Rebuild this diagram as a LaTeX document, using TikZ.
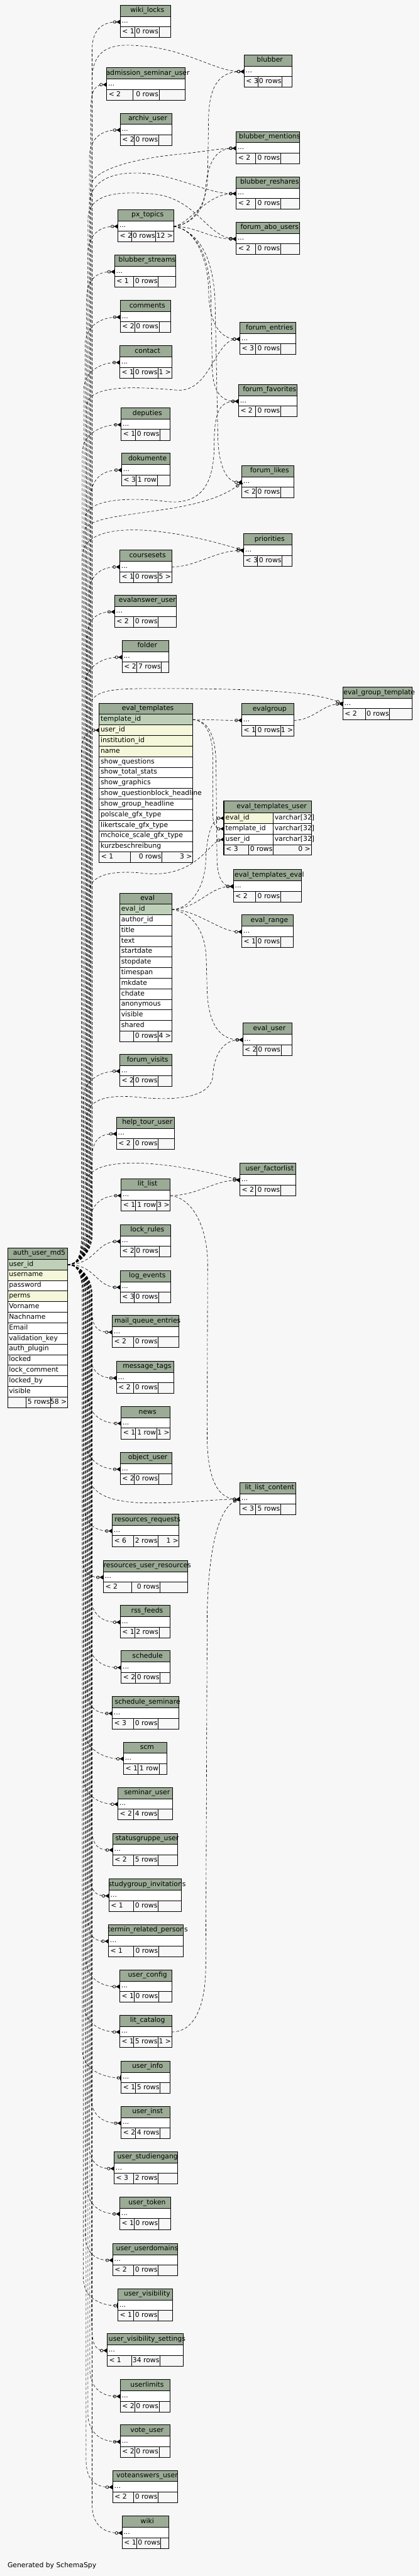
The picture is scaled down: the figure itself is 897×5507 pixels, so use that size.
\documentclass[tikz,border=0pt]{standalone}
\usepackage{fontspec}
\setmainfont{DejaVu Sans}
\usetikzlibrary{arrows.meta}
\definecolor{bgfill}{HTML}{F7F7F7}
\definecolor{headfill}{HTML}{9BAB96}
\definecolor{pkfill}{HTML}{BED1B8}
\definecolor{idxfill}{HTML}{F4F7DA}
\tikzset{
  every node/.style={font=\fontsize{10.9}{13}\selectfont, inner sep=0pt},
  tline/.style={draw=black, line width=0.75pt},
  hdrtxt/.style={anchor=base},
  coltxt/.style={anchor=base west},
  numtxt/.style={anchor=base east},
  fk/.style={dash pattern=on 4.5pt off 3pt, line width=0.6pt},
  crow/.style={-{Circle[open,length=5.5pt,width=5pt,line width=0.7pt]Triangle[reversed,length=6pt,width=7pt]}},
  zeroone/.style={-{Circle[open,length=5.5pt,width=5pt,line width=0.7pt]Bar[width=8pt,line width=1.5pt]}}
}
% table with one row of dots: name, left, right, top, parents, rows, children, dividers
\newcommand{\smalltab}[9]{%
  \fill[headfill] (#2,#4) rectangle (#3,{#4+24}); \fill[white] (#2,{#4+24}) rectangle (#3,{#4+46});
  \draw[tline] (#2,#4) rectangle (#3,{#4+69}) (#2,{#4+24}) -- (#3,{#4+24}) (#2,{#4+46}) -- (#3,{#4+46}) (#8,{#4+46}) -- (#8,{#4+69}) (#9,{#4+46}) -- (#9,{#4+69});
  \node[hdrtxt] (#1) at ({(#2+#3)/2+4},{#4+15.5}) {\detokenize{#1}};
  \node[coltxt] (#1-dots) at ({#2+3},{#4+38.5}) {...};
  \node[coltxt] (#1-par) at ({#2+4},{#4+61}) {#5};
  \node[numtxt] (#1-rows) at ({#9-1},{#4+61}) {#6};
  \node[numtxt] (#1-kids) at ({#3-1},{#4+61}) {#7};
  \coordinate (#1-in) at (#2,{#4+36}); \coordinate (#1-out) at (#3,{#4+36});
}
% links from auth_user_md5.user_id: tip, target, bundle x, target top, target left
\newcommand{\fkup}[5][crow]{\draw[fk,#1] (auth-uid) .. controls (170,2703.3) and (#3,2676) .. (#3,2640) -- (#3,{#4+96}) .. controls (#3,{#4+56}) and ({max(#5-42,#3+5)},{#4+36}) .. (#2-in);}
\newcommand{\fkdown}[5][crow]{\draw[fk,#1] (auth-uid) .. controls (170,2703.3) and (#3,2731) .. (#3,2766) -- (#3,{#4-24}) .. controls (#3,{#4+16}) and ({max(#5-42,#3+5)},{#4+36}) .. (#2-in);}

\begin{document}
\begin{tikzpicture}[x=0.75pt, y=-0.75pt]
\useasboundingbox (0,0) rectangle (897,5507);
\fill[bgfill] (0,0) rectangle (897,5507);

% small tables
\smalltab{wiki_locks}{257}{365}{11}{< 1}{0 rows}{}{288}{340}
\smalltab{blubber}{522}{624}{117}{< 3}{0 rows}{}{552}{603}
\smalltab{admission_seminar_user}{228}{396}{145}{< 2}{0 rows}{}{284}{340}
\smalltab{archiv_user}{257}{367}{242}{< 2}{0 rows}{}{287}{339}
\smalltab{blubber_mentions}{505}{640}{281}{< 2}{0 rows}{}{547}{600}
\smalltab{blubber_reshares}{505}{640}{378}{< 2}{0 rows}{}{547}{600}
\smalltab{px_topics}{252}{371}{448}{< 2}{0 rows}{12 >}{281}{333}
\smalltab{forum_abo_users}{505}{640}{475}{< 2}{0 rows}{}{547}{600}
\smalltab{blubber_streams}{245}{376}{545}{< 1}{0 rows}{}{285}{338}
\smalltab{comments}{257}{365}{642}{< 2}{0 rows}{}{288}{340}
\smalltab{forum_entries}{513}{632}{689}{< 3}{0 rows}{}{547}{600}
\smalltab{contact}{256}{367}{739}{< 1}{0 rows}{1 >}{285}{338}
\smalltab{forum_favorites}{510}{635}{822}{< 2}{0 rows}{}{547}{600}
\smalltab{deputies}{259}{363}{872}{< 1}{0 rows}{}{289}{342}
\smalltab{dokumente}{260}{363}{969}{< 3}{1 row}{}{291}{336}
\smalltab{forum_likes}{517}{628}{995}{< 2}{0 rows}{}{548}{600}
\smalltab{priorities}{521}{624}{1141}{< 3}{0 rows}{}{551}{603}
\smalltab{coursesets}{256}{367}{1176}{< 1}{0 rows}{5 >}{285}{338}
\smalltab{evalanswer_user}{245}{377}{1272}{< 2}{0 rows}{}{285}{338}
\smalltab{folder}{261}{361}{1369}{< 2}{7 rows}{}{292}{345}
\smalltab{eval_group_template}{733}{881}{1469}{< 2}{0 rows}{}{781}{833}
\smalltab{evalgroup}{517}{628}{1504}{< 1}{0 rows}{1 >}{547}{600}
\smalltab{eval_templates_eval}{499}{645}{1859}{< 2}{0 rows}{}{547}{600}
\smalltab{eval_range}{517}{627}{1956}{< 1}{0 rows}{}{548}{600}
\smalltab{eval_user}{519}{625}{2187}{< 2}{0 rows}{}{549}{601}
\smalltab{forum_visits}{256}{367}{2254}{< 2}{0 rows}{}{285}{338}
\smalltab{help_tour_user}{249}{373}{2388}{< 2}{0 rows}{}{285}{338}
\smalltab{user_factorlist}{513}{632}{2487}{< 2}{0 rows}{}{547}{600}
\smalltab{lit_list}{259}{364}{2520}{< 1}{1 row}{3 >}{289}{335}
\smalltab{lock_rules}{257}{365}{2618}{< 2}{0 rows}{}{288}{340}
\smalltab{log_events}{257}{365}{2716}{< 3}{0 rows}{}{287}{339}
\smalltab{mail_queue_entries}{240}{383}{2812}{< 2}{0 rows}{}{285}{338}
\smalltab{message_tags}{249}{372}{2910}{< 2}{0 rows}{}{285}{338}
\smalltab{news}{259}{364}{3007}{< 1}{1 row}{1 >}{289}{335}
\smalltab{object_user}{257}{367}{3105}{< 2}{0 rows}{}{287}{339}
\smalltab{lit_list_content}{513}{632}{3169}{< 3}{5 rows}{}{547}{600}
\smalltab{resources_requests}{240}{383}{3237}{< 6}{2 rows}{1 >}{285}{338}
\smalltab{resources_user_resources}{221}{401}{3336}{< 2}{0 rows}{}{281}{342}
\smalltab{rss_feeds}{257}{364}{3432}{< 1}{2 rows}{}{288}{340}
\smalltab{schedule}{259}{364}{3529}{< 2}{0 rows}{}{289}{342}
\smalltab{schedule_seminare}{240}{383}{3627}{< 3}{0 rows}{}{285}{338}
\smalltab{scm}{264}{357}{3724}{< 1}{1 row}{}{295}{340}
\smalltab{seminar_user}{252}{369}{3821}{< 2}{4 rows}{}{285}{338}
\smalltab{statusgruppe_user}{241}{380}{3919}{< 2}{5 rows}{}{285}{338}
\smalltab{studygroup_invitations}{233}{388}{4017}{< 1}{0 rows}{}{285}{338}
\smalltab{termin_related_persons}{232}{392}{4114}{< 1}{0 rows}{}{285}{339}
\smalltab{user_config}{256}{367}{4211}{< 1}{0 rows}{}{287}{339}
\smalltab{lit_catalog}{256}{367}{4308}{< 1}{5 rows}{1 >}{285}{338}
\smalltab{user_info}{259}{364}{4406}{< 1}{5 rows}{}{289}{342}
\smalltab{user_inst}{259}{364}{4503}{< 2}{4 rows}{}{289}{342}
\smalltab{user_studiengang}{244}{379}{4600}{< 3}{2 rows}{}{285}{338}
\smalltab{user_token}{256}{365}{4697}{< 1}{0 rows}{}{287}{339}
\smalltab{user_userdomains}{241}{380}{4796}{< 2}{0 rows}{}{285}{338}
\smalltab{user_visibility}{252}{369}{4893}{< 1}{0 rows}{}{285}{338}
\smalltab{user_visibility_settings}{229}{392}{4989}{< 1}{34 rows}{}{281}{342}
\smalltab{userlimits}{257}{364}{5087}{< 2}{0 rows}{}{288}{340}
\smalltab{vote_user}{257}{364}{5184}{< 2}{0 rows}{}{288}{340}
\smalltab{voteanswers_user}{241}{380}{5281}{< 2}{0 rows}{}{285}{338}
\smalltab{wiki}{261}{361}{5379}{< 1}{0 rows}{}{292}{344}

% eval_templates
\fill[headfill] (212,1504) rectangle (412,1527);
\foreach \c/\f [count=\i from 0] in {template\_id/pkfill,user\_id/idxfill,institution\_id/idxfill,name/idxfill,show\_questions/white,show\_total\_stats/white,show\_graphics/white,show\_questionblock\_headline/white,show\_group\_headline/white,polscale\_gfx\_type/white,likertscale\_gfx\_type/white,mchoice\_scale\_gfx\_type/white,kurzbeschreibung/white}
  {\filldraw[tline,fill=\f] (212,{1527+\i*22.65}) rectangle (412,{1527+(\i+1)*22.65}); \node[coltxt] (et-r\i) at (215,{1541.6+\i*22.65}) {\c};}
\draw[tline] (212,1504) rectangle (412,1844.1) (279,1821.45) -- (279,1844.1) (346,1821.45) -- (346,1844.1);
\node[hdrtxt] (eval_templates) at (316,1518.5) {eval\_templates};
\node[coltxt] (et-par) at (216,1836.1) {< 1}; \node[numtxt] (et-rows) at (345,1836.1) {0 rows}; \node[numtxt] (et-kids) at (411,1836.1) {3 >};
\coordinate (et-tid) at (412,1538.3); \coordinate (et-uid) at (212,1561);

% eval
\fill[headfill] (256,1909) rectangle (367,1933);
\foreach \c/\f [count=\i from 0] in {eval\_id/pkfill,author\_id/white,title/white,text/white,startdate/white,stopdate/white,timespan/white,mkdate/white,chdate/white,anonymous/white,visible/white,shared/white}
  {\filldraw[tline,fill=\f] (256,{1933+\i*22.6}) rectangle (367,{1933+(\i+1)*22.6}); \node[coltxt] (ev-r\i) at (259,{1947.6+\i*22.6}) {\c};}
\draw[tline] (256,1909) rectangle (367,2226.8) (285,2204.2) -- (285,2226.8) (338,2204.2) -- (338,2226.8);
\node[hdrtxt] (eval) at (315.5,1924.5) {eval};
\node[numtxt] (ev-rows) at (337,2218.8) {0 rows}; \node[numtxt] (ev-kids) at (366,2218.8) {4 >};
\coordinate (ev-eid) at (367,1944.3);

% eval_templates_user
\fill[headfill] (479,1712) rectangle (666,1738);
\foreach \c/\f [count=\i from 0] in {eval\_id/idxfill,template\_id/white,user\_id/white}
  {\filldraw[tline,fill=\f] (479,{1738+\i*22.5}) rectangle (584,{1760.5+\i*22.5}); \filldraw[tline,fill=white] (584,{1738+\i*22.5}) rectangle (666,{1760.5+\i*22.5});
   \node[coltxt] (etu-r\i) at (482,{1752.6+\i*22.5}) {\c}; \node[coltxt] (etu-t\i) at (587,{1752.6+\i*22.5}) {varchar[32]};}
\draw[tline] (531,1805.5) -- (531,1828) (584,1805.5) -- (584,1828);
\draw[line width=1.6pt] (479,1712) rectangle (666,1828);
\node[hdrtxt] (eval_templates_user) at (581,1728.5) {eval\_templates\_user};
\node[coltxt] (etu-par) at (483,1820) {< 3}; \node[numtxt] (etu-rows) at (583,1820) {0 rows}; \node[numtxt] (etu-kids) at (664,1820) {0 >};
\coordinate (etu-eid) at (479,1749.25); \coordinate (etu-tid) at (479,1771.75); \coordinate (etu-uid) at (479,1794.25);

% auth_user_md5
\fill[headfill] (16,2668) rectangle (144,2692);
\foreach \c/\f [count=\i from 0] in {user\_id/pkfill,username/idxfill,password/white,perms/idxfill,Vorname/white,Nachname/white,Email/white,validation\_key/white,auth\_plugin/white,locked/white,lock\_comment/white,locked\_by/white,visible/white}
  {\filldraw[tline,fill=\f] (16,{2692+\i*22.65}) rectangle (144,{2692+(\i+1)*22.65}); \node[coltxt] (auth-r\i) at (19,{2706.6+\i*22.65}) {\c};}
\draw[tline] (16,2668) rectangle (144,3009.1) (55,2986.45) -- (55,3009.1) (108,2986.45) -- (108,3009.1);
\node[hdrtxt] (auth_user_md5) at (84,2683) {auth\_user\_md5};
\node[numtxt] (auth-rows) at (107,3001.1) {5 rows}; \node[numtxt] (auth-kids) at (143,3001.1) {58 >};
\coordinate (auth-uid) at (144,2703.3);

\node[coltxt] (generated) at (16,5489) {Generated by SchemaSpy};

% links out of auth_user_md5, upwards
\fkup{wiki_locks}{197}{11}{257}
\fkup{admission_seminar_user}{194}{145}{228}
\fkup{archiv_user}{191}{242}{257}
\fkup{px_topics}{188}{448}{252}
\fkup{blubber_streams}{185}{545}{245}
\fkup{comments}{182}{642}{257}
\fkup{contact}{179}{739}{256}
\fkup{deputies}{176}{872}{259}
\fkup{dokumente}{194}{969}{260}
\fkup{coursesets}{190}{1176}{256}
\fkup{evalanswer_user}{186}{1272}{245}
\fkup{folder}{182}{1369}{261}
\fkup{forum_visits}{178}{2254}{256}
\fkup{help_tour_user}{196}{2388}{249}
\fkup{lit_list}{192}{2520}{259}
\draw[fk,crow] (auth-uid) .. controls (205,2703.3) and (205,2654) .. (lock_rules-in);
\draw[fk,crow] (auth-uid) .. controls (205,2703.3) and (205,2752) .. (log_events-in);
\draw[fk,crow] (auth-uid) .. controls (170,2703.3) and (174,2676) .. (174,2640) -- (174,1610) .. controls (174,1578) and (185,1561) .. (et-uid);
% ... and over to the right column
\draw[fk,crow] (auth-uid) .. controls (170,2703.3) and (197,2676) .. (197,2640) -- (197,170) .. controls (197,90) and (260,95) .. (300,98) .. controls (400,105) and (460,153) .. (blubber-in);
\draw[fk,crow] (auth-uid) .. controls (170,2703.3) and (194,2676) .. (194,2640) -- (194,400) .. controls (194,360) and (300,338) .. (380,330) .. controls (440,324) and (470,317) .. (blubber_mentions-in);
\draw[fk,crow] (auth-uid) .. controls (170,2703.3) and (191,2676) .. (191,2640) -- (191,440) .. controls (191,380) and (250,368) .. (300,370) .. controls (380,374) and (440,414) .. (blubber_reshares-in);
\draw[fk,crow] (auth-uid) .. controls (170,2703.3) and (188,2676) .. (188,2640) -- (188,470) .. controls (188,410) and (260,410) .. (320,414) .. controls (420,420) and (440,505) .. (forum_abo_users-in);
\draw[fk,crow] (auth-uid) .. controls (170,2703.3) and (185,2676) .. (185,2640) -- (185,870) .. controls (185,815) and (320,830) .. (380,834) .. controls (450,838) and (460,725) .. (forum_entries-in);
\draw[fk,crow] (auth-uid) .. controls (170,2703.3) and (182,2676) .. (182,2640) -- (182,1110) .. controls (182,1060) and (300,1065) .. (355,1072) .. controls (440,1082) and (458,1020) .. (458,950) .. controls (458,880) and (470,858) .. (forum_favorites-in);
\draw[fk,crow] (auth-uid) .. controls (170,2703.3) and (179,2676) .. (179,2640) -- (179,1140) .. controls (179,1085) and (420,1110) .. (forum_likes-in);
\draw[fk,crow] (auth-uid) .. controls (170,2703.3) and (176,2676) .. (176,2640) -- (176,1190) .. controls (176,1115) and (330,1118) .. (priorities-in);
\draw[fk,crow] (auth-uid) .. controls (170,2703.3) and (194,2676) .. (194,2640) -- (194,1510) .. controls (194,1470) and (260,1472) .. (350,1472) .. controls (560,1472) and (680,1480) .. (eval_group_template-in);
\draw[fk,crow] (auth-uid) .. controls (170,2703.3) and (190,2676) .. (190,2640) -- (190,1910) .. controls (190,1865) and (250,1862) .. (300,1866) .. controls (420,1882) and (445,1800) .. (etu-uid);
\draw[fk,crow] (auth-uid) .. controls (170,2703.3) and (186,2676) .. (186,2640) -- (186,2390) .. controls (186,2345) and (240,2340) .. (300,2346) .. controls (380,2354) and (452,2345) .. (455,2300) .. controls (458,2250) and (480,2223) .. (eval_user-in);
\draw[fk,crow] (auth-uid) .. controls (170,2703.3) and (182,2676) .. (182,2640) -- (182,2535) .. controls (182,2470) and (330,2475) .. (user_factorlist-in);
\draw[fk,crow] (auth-uid) .. controls (170,2703.3) and (190,2731) .. (190,2766) -- (190,3150) .. controls (190,3200) and (250,3213) .. (320,3213) .. controls (400,3213) and (460,3205) .. (lit_list_content-in);
% links out of auth_user_md5, downwards
\fkdown{mail_queue_entries}{196}{2812}{240}
\fkdown{message_tags}{192}{2910}{249}
\fkdown{news}{188}{3007}{259}
\fkdown{object_user}{184}{3105}{257}
\fkdown{resources_requests}{180}{3237}{240}
\fkdown{resources_user_resources}{176}{3336}{221}
\fkdown{rss_feeds}{194}{3432}{257}
\fkdown{schedule}{190}{3529}{259}
\fkdown{schedule_seminare}{186}{3627}{240}
\fkdown{scm}{182}{3724}{264}
\fkdown{seminar_user}{178}{3821}{252}
\fkdown{statusgruppe_user}{196}{3919}{241}
\fkdown{studygroup_invitations}{192}{4017}{233}
\fkdown{termin_related_persons}{188}{4114}{232}
\fkdown{user_config}{184}{4211}{256}
\fkdown{lit_catalog}{180}{4308}{256}
\fkdown[zeroone]{user_info}{176}{4406}{259}
\fkdown{user_inst}{194}{4503}{259}
\fkdown{user_studiengang}{190}{4600}{244}
\fkdown{user_token}{186}{4697}{256}
\fkdown{user_userdomains}{182}{4796}{241}
\fkdown[zeroone]{user_visibility}{178}{4893}{252}
\fkdown{user_visibility_settings}{196}{4989}{229}
\fkdown{userlimits}{192}{5087}{257}
\fkdown{vote_user}{188}{5184}{257}
\fkdown{voteanswers_user}{184}{5281}{241}
\fkdown{wiki}{197}{5379}{261}

% px_topics children
\draw[fk,crow] (px_topics-out) .. controls (410,482) and (442,440) .. (444,380) -- (446,250) .. controls (448,175) and (475,153) .. (blubber-in);
\draw[fk,crow] (px_topics-out) .. controls (410,480) and (436,450) .. (439,410) .. controls (443,350) and (460,317) .. (blubber_mentions-in);
\draw[fk,crow] (px_topics-out) .. controls (405,480) and (440,414) .. (blubber_reshares-in);
\draw[fk,crow] (px_topics-out) .. controls (420,484) and (450,511) .. (forum_abo_users-in);
\draw[fk,crow] (px_topics-out) .. controls (420,488) and (445,560) .. (446,620) .. controls (447,690) and (470,725) .. (forum_entries-in);
\draw[fk,crow] (px_topics-out) .. controls (425,492) and (450,560) .. (451,640) -- (454,790) .. controls (456,840) and (475,858) .. (forum_favorites-in);
\draw[fk,crow] (px_topics-out) .. controls (430,495) and (458,560) .. (460,650) -- (466,940) .. controls (469,1000) and (485,1031) .. (forum_likes-in);
% the other parents
\draw[fk,crow] (coursesets-out) .. controls (420,1212) and (460,1177) .. (priorities-in);
\draw[fk,crow] (evalgroup-out) .. controls (670,1540) and (690,1505) .. (eval_group_template-in);
\draw[fk,crow] (et-tid) .. controls (450,1538) and (470,1540) .. (evalgroup-in);
\draw[fk,crow] (et-tid) .. controls (440,1540) and (455,1570) .. (455,1620) -- (455,1740) .. controls (455,1762) and (462,1772) .. (etu-tid);
\draw[fk,crow] (et-tid) .. controls (445,1540) and (462,1570) .. (462,1640) -- (464,1840) .. controls (465,1880) and (480,1895) .. (eval_templates_eval-in);
\draw[fk,crow] (ev-eid) .. controls (405,1944) and (438,1900) .. (440,1840) .. controls (442,1780) and (455,1749) .. (etu-eid);
\draw[fk,crow] (ev-eid) .. controls (420,1944) and (450,1895) .. (eval_templates_eval-in);
\draw[fk,crow] (ev-eid) .. controls (420,1944) and (470,1992) .. (eval_range-in);
\draw[fk,crow] (ev-eid) .. controls (410,1950) and (440,1990) .. (441,2050) -- (443,2120) .. controls (446,2190) and (470,2223) .. (eval_user-in);
\draw[fk,crow] (lit_list-out) .. controls (420,2556) and (460,2523) .. (user_factorlist-in);
\draw[fk,crow] (lit_list-out) .. controls (410,2560) and (443,2620) .. (444,2700) -- (443,3080) .. controls (445,3170) and (470,3205) .. (lit_list_content-in);
\draw[fk,crow] (lit_catalog-out) .. controls (410,4344) and (440,4300) .. (440,4200) -- (443,3450) .. controls (446,3300) and (470,3220) .. (lit_list_content-in);
\end{tikzpicture}
\end{document}
